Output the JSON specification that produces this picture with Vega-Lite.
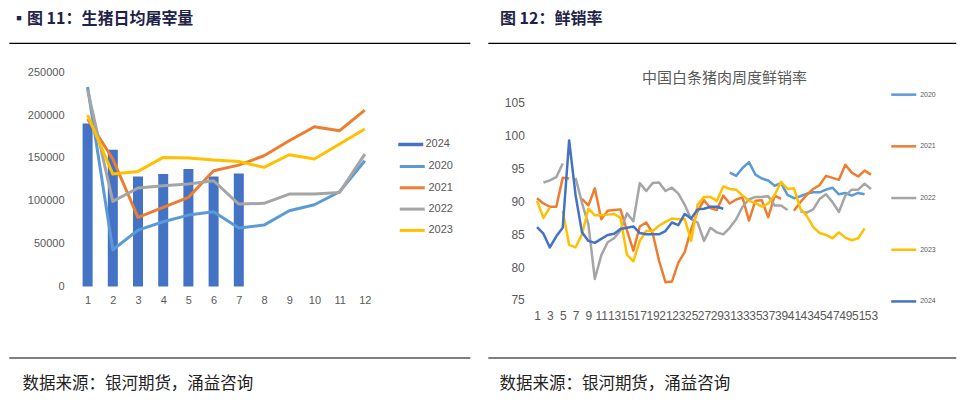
{
  "$schema": "https://vega.github.io/schema/vega-lite/v6.json",
  "background": "white",
  "padding": {"left": 8, "top": 10, "right": 0, "bottom": 0},
  "bounds": "flush",
  "spacing": 18,
  "resolve": {"scale": {"stroke": "independent", "fill": "independent"}, "legend": {"stroke": "independent", "fill": "independent"}},
  "config": {
    "view": {"stroke": null},
    "axis": {"grid": false, "domain": false, "ticks": false, "labelFont": "Liberation Sans", "labelColor": "#595959"},
    "legend": {"labelFont": "Liberation Sans", "labelColor": "#595959", "padding": 0}
  },
  "hconcat": [
    {
      "width": 461,
      "height": 314.7,
      "view": {"stroke": "#000000", "strokeWidth": 1.2, "strokeDash": [461, 314.7]},
      "title": {"text": "▪图 11：生猪日均屠宰量", "anchor": "start", "frame": "group", "dx": 2, "offset": 7.6, "baseline": "middle", "font": "Noto Sans CJK SC", "fontSize": 16, "fontWeight": "bold", "color": "#1f2347"},
      "data": {
        "values": [
          {"m": 1, "2024": 190400, "2020": 233000, "2021": 195500, "2022": 229400, "2023": 200200},
          {"m": 2, "2024": 159700, "2020": 42800, "2021": 148800, "2022": 99300, "2023": 131200},
          {"m": 3, "2024": 128500, "2020": 65800, "2021": 80600, "2022": 114900, "2023": 134300},
          {"m": 4, "2024": 131300, "2020": 75500, "2021": 92300, "2022": 117600, "2023": 150700},
          {"m": 5, "2024": 137100, "2020": 83300, "2021": 104000, "2022": 119500, "2023": 149900},
          {"m": 6, "2024": 128500, "2020": 87200, "2021": 135100, "2022": 123400, "2023": 147600},
          {"m": 7, "2024": 132000, "2020": 68100, "2021": 141700, "2022": 96200, "2023": 146000},
          {"m": 8, "2024": null, "2020": 71600, "2021": 152600, "2022": 97000, "2023": 139000},
          {"m": 9, "2024": null, "2020": 88400, "2021": 170200, "2022": 107900, "2023": 153800},
          {"m": 10, "2024": null, "2020": 95400, "2021": 186500, "2022": 107900, "2023": 148800},
          {"m": 11, "2024": null, "2020": 110600, "2021": 181900, "2022": 109800, "2023": 166300},
          {"m": 12, "2024": null, "2020": 146800, "2021": 206000, "2022": 154600, "2023": 183800}
        ]
      },
      "encoding": {
        "x": {
          "field": "m", "type": "quantitative",
          "scale": {"domain": [-2.119, 16.175], "nice": false, "padding": 0, "zero": false},
          "axis": {
            "values": [1, 2, 3, 4, 5, 6, 7, 8, 9, 10, 11, 12], "format": "d",
            "offset": -71.3, "labelFontSize": 11, "labelPadding": 8,
            "title": "数据来源：银河期货，涌益咨询",
            "titleX": 13, "titleY": 97.3, "titleAlign": "left", "titleBaseline": "middle",
            "titleFont": "Noto Sans CJK SC", "titleFontSize": 16.5, "titleFontWeight": "normal", "titleColor": "#222222"
          }
        },
        "y": {
          "field": "value", "type": "quantitative",
          "scale": {"domain": [-83294, 284346], "nice": false, "zero": false},
          "axis": {"values": [0, 50000, 100000, 150000, 200000, 250000], "format": "d", "offset": -66, "labelFontSize": 11, "labelPadding": 11, "title": null}
        }
      },
      "layer": [
        {
          "transform": [{"fold": ["2024"], "as": ["series", "value"]}],
          "mark": {"type": "bar", "size": 10},
          "encoding": {
            "fill": {
              "field": "series", "type": "nominal",
              "scale": {"domain": ["2024"], "range": ["#4472C4"]},
              "legend": {"title": null, "orient": "none", "legendX": 395.25, "legendY": 95, "symbolType": "M-2,-0.28H2V0.28H-2Z", "symbolSize": 156.25, "symbolStrokeWidth": 0, "labelOffset": 8.25, "labelFontSize": 11}
            }
          }
        },
        {
          "transform": [{"fold": ["2020", "2021", "2022", "2023"], "as": ["series", "value"]}],
          "mark": {"type": "line", "strokeWidth": 3, "strokeJoin": "round"},
          "encoding": {
            "stroke": {
              "field": "series", "type": "nominal",
              "scale": {"domain": ["2020", "2021", "2022", "2023"], "range": ["#5B9BD5", "#ED7D31", "#A5A5A5", "#FFC000"]},
              "legend": {"title": null, "orient": "none", "legendX": 395.25, "legendY": 115.5, "symbolType": "M-2,0H2", "symbolSize": 156.25, "symbolStrokeWidth": 3, "rowPadding": 7.3, "labelOffset": 8.25, "labelFontSize": 11}
            }
          }
        }
      ]
    },
    {
      "width": 468,
      "height": 314.7,
      "view": {"stroke": "#000000", "strokeWidth": 1.2, "strokeDash": [468, 314.7]},
      "title": {"text": "图 12：鲜销率", "anchor": "start", "frame": "group", "dx": 12, "offset": 7.6, "baseline": "middle", "font": "Noto Sans CJK SC", "fontSize": 16, "fontWeight": "bold", "color": "#1f2347"},
      "data": {
        "values": [
          {"w": 1, "2020": null, "2021": 90.5, "2022": null, "2023": 90.1, "2024": 86.1},
          {"w": 2, "2020": null, "2021": 89.7, "2022": 92.9, "2023": 87.5, "2024": 85.1},
          {"w": 3, "2020": null, "2021": 89.2, "2022": 93.2, "2023": 89.1, "2024": 83.0},
          {"w": 4, "2020": null, "2021": 89.2, "2022": 93.7, "2023": null, "2024": 84.7},
          {"w": 5, "2020": null, "2021": 93.6, "2022": 95.8, "2023": 88.6, "2024": 86.0},
          {"w": 6, "2020": null, "2021": 93.5, "2022": null, "2023": 83.4, "2024": 99.3},
          {"w": 7, "2020": null, "2021": null, "2022": 93.6, "2023": 83.0, "2024": 91.0},
          {"w": 8, "2020": null, "2021": 90.4, "2022": 89.8, "2023": 85.0, "2024": 85.3},
          {"w": 9, "2020": null, "2021": 89.4, "2022": 86.5, "2023": 88.9, "2024": 84.0},
          {"w": 10, "2020": null, "2021": 92.0, "2022": 78.2, "2023": 87.9, "2024": 83.7},
          {"w": 11, "2020": null, "2021": 87.3, "2022": 81.8, "2023": 87.9, "2024": 84.3},
          {"w": 12, "2020": null, "2021": 88.6, "2022": 83.8, "2023": 88.0, "2024": 84.9},
          {"w": 13, "2020": null, "2021": 88.7, "2022": 84.4, "2023": 88.1, "2024": 85.1},
          {"w": 14, "2020": null, "2021": 88.8, "2022": 85.6, "2023": 87.5, "2024": 85.8},
          {"w": 15, "2020": null, "2021": 85.6, "2022": 88.2, "2023": 81.9, "2024": 86.0},
          {"w": 16, "2020": null, "2021": 82.5, "2022": 87.0, "2023": 80.9, "2024": 86.2},
          {"w": 17, "2020": null, "2021": 86.2, "2022": 92.8, "2023": 84.0, "2024": 85.2},
          {"w": 18, "2020": null, "2021": 86.8, "2022": 91.6, "2023": 85.5, "2024": 85.0},
          {"w": 19, "2020": null, "2021": 85.2, "2022": 92.8, "2023": 85.5, "2024": 85.0},
          {"w": 20, "2020": null, "2021": 81.0, "2022": 92.9, "2023": 86.3, "2024": 85.0},
          {"w": 21, "2020": null, "2021": 77.7, "2022": 91.6, "2023": 86.9, "2024": 85.5},
          {"w": 22, "2020": null, "2021": 77.8, "2022": 92.1, "2023": 87.4, "2024": 86.8},
          {"w": 23, "2020": null, "2021": 80.7, "2022": 91.2, "2023": 87.3, "2024": 86.4},
          {"w": 24, "2020": null, "2021": 82.3, "2022": 89.5, "2023": 87.3, "2024": 88.1},
          {"w": 25, "2020": null, "2021": 85.8, "2022": 87.3, "2023": 84.0, "2024": 87.4},
          {"w": 26, "2020": null, "2021": 88.5, "2022": 86.8, "2023": 89.5, "2024": 88.8},
          {"w": 27, "2020": null, "2021": 90.2, "2022": 84.0, "2023": 90.7, "2024": 88.9},
          {"w": 28, "2020": null, "2021": 89.0, "2022": 86.0, "2023": 90.7, "2024": 89.2},
          {"w": 29, "2020": null, "2021": 88.7, "2022": 85.3, "2023": 90.1, "2024": 89.2},
          {"w": 30, "2020": null, "2021": 90.9, "2022": 85.0, "2023": 92.3, "2024": 88.9},
          {"w": 31, "2020": 94.4, "2021": 89.7, "2022": 86.0, "2023": 91.9, "2024": null},
          {"w": 32, "2020": 93.9, "2021": 90.3, "2022": 87.3, "2023": 91.8, "2024": null},
          {"w": 33, "2020": 95.1, "2021": 90.6, "2022": 89.2, "2023": 90.9, "2024": null},
          {"w": 34, "2020": 96.0, "2021": 87.1, "2022": 90.3, "2023": 90.1, "2024": null},
          {"w": 35, "2020": 94.1, "2021": 90.1, "2022": 90.7, "2023": 89.8, "2024": null},
          {"w": 36, "2020": 93.5, "2021": 90.2, "2022": 90.7, "2023": 89.2, "2024": null},
          {"w": 37, "2020": 93.2, "2021": 87.6, "2022": 90.8, "2023": 89.7, "2024": null},
          {"w": 38, "2020": 92.4, "2021": 90.9, "2022": 89.4, "2023": 91.0, "2024": null},
          {"w": 39, "2020": 92.8, "2021": 90.4, "2022": 89.4, "2023": 93.0, "2024": null},
          {"w": 40, "2020": 91.0, "2021": null, "2022": 88.7, "2023": 91.9, "2024": null},
          {"w": 41, "2020": 90.5, "2021": 88.6, "2022": null, "2023": 92.0, "2024": null},
          {"w": 42, "2020": 90.8, "2021": 89.9, "2022": 88.5, "2023": 88.9, "2024": null},
          {"w": 43, "2020": 91.2, "2021": 91.0, "2022": 88.3, "2023": 87.8, "2024": null},
          {"w": 44, "2020": 91.4, "2021": 91.9, "2022": 88.8, "2023": 86.1, "2024": null},
          {"w": 45, "2020": 91.4, "2021": 92.5, "2022": 90.4, "2023": 85.2, "2024": null},
          {"w": 46, "2020": 91.8, "2021": 93.9, "2022": 91.1, "2023": 84.9, "2024": null},
          {"w": 47, "2020": 92.1, "2021": 93.6, "2022": 89.9, "2023": 84.4, "2024": null},
          {"w": 48, "2020": 91.1, "2021": 93.3, "2022": 88.4, "2023": 85.3, "2024": null},
          {"w": 49, "2020": 91.3, "2021": 95.6, "2022": 90.9, "2023": 84.5, "2024": null},
          {"w": 50, "2020": 90.9, "2021": 94.4, "2022": 91.8, "2023": 84.1, "2024": null},
          {"w": 51, "2020": 91.3, "2021": 93.8, "2022": 91.8, "2023": 84.4, "2024": null},
          {"w": 52, "2020": 91.1, "2021": 94.7, "2022": 92.7, "2023": 85.9, "2024": null},
          {"w": 53, "2020": null, "2021": 94.1, "2022": 91.9, "2023": null, "2024": null}
        ]
      },
      "encoding": {
        "x": {
          "field": "w", "type": "quantitative",
          "scale": {"domain": [-6.631, 66.23], "nice": false, "padding": 0, "zero": false},
          "axis": {
            "values": [1, 3, 5, 7, 9, 11, 13, 15, 17, 19, 21, 23, 25, 27, 29, 31, 33, 35, 37, 39, 41, 43, 45, 47, 49, 51, 53],
            "format": "d", "offset": -57.7, "labelFontSize": 12, "labelPadding": 10.5, "labelOverlap": false, "labelFlush": false,
            "title": "数据来源：银河期货，涌益咨询",
            "titleX": 11, "titleY": 83.7, "titleAlign": "left", "titleBaseline": "middle",
            "titleFont": "Noto Sans CJK SC", "titleFontSize": 16.5, "titleFontWeight": "normal", "titleColor": "#222222"
          }
        },
        "y": {
          "field": "value", "type": "quantitative",
          "scale": {"domain": [66.214, 114.137], "nice": false, "zero": false},
          "axis": {
            "values": [75, 80, 85, 90, 95, 100, 105], "offset": -45.8, "labelFontSize": 12, "labelPadding": 9.5,
            "title": "中国白条猪肉周度鲜销率",
            "titleAngle": 0, "titleX": 190.2, "titleY": 34.4, "titleAlign": "center", "titleBaseline": "middle",
            "titleFont": "Noto Sans CJK SC", "titleFontSize": 15, "titleFontWeight": "normal", "titleColor": "#595959"
          }
        }
      },
      "layer": [
        {
          "transform": [{"fold": ["2020", "2021", "2022", "2023", "2024"], "as": ["series", "value"]}],
          "mark": {"type": "line", "strokeWidth": 2.5, "strokeJoin": "round", "invalid": "break-paths-show-domains"},
          "encoding": {
            "stroke": {
              "field": "series", "type": "nominal",
              "scale": {"domain": ["2020", "2021", "2022", "2023", "2024"], "range": ["#5B9BD5", "#ED7D31", "#A5A5A5", "#FFC000", "#4472C4"]},
              "legend": {"title": null, "orient": "none", "legendX": 408.25, "legendY": 44.15, "symbolType": "M-2,0H2", "symbolSize": 156.25, "symbolStrokeWidth": 2.5, "rowPadding": 38.7, "labelOffset": 8.9, "labelFontSize": 7}
            }
          }
        }
      ]
    }
  ]
}
